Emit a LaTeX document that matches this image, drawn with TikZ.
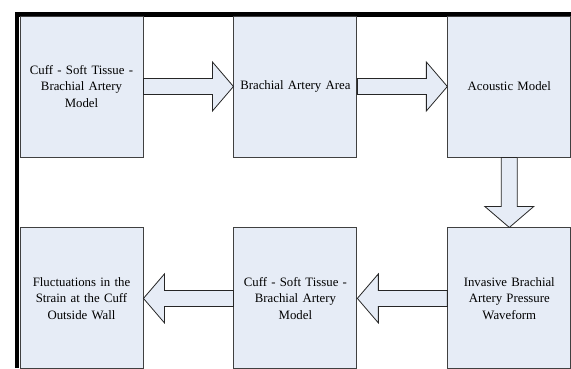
\documentclass[tikz,border=0pt]{standalone}
\usepackage{fontspec}
\setmainfont{Liberation Serif}
\usepackage{tikz}
\usetikzlibrary{positioning,calc}

\definecolor{boxfill}{RGB}{230,236,246}

% hollow block arrow from #1 to the tip #2
\newcommand{\blockarrow}[2]{%
  \draw[blockarrow] ($(#1)!8pt!90:(#2)$)
    -- ($(#2)!21pt!(#1)!8pt!-90:(#1)$)
    -- ($(#2)!21pt!(#1)!24.5pt!-90:(#1)$)
    -- (#2)
    -- ($(#2)!21pt!(#1)!24.5pt!90:(#1)$)
    -- ($(#2)!21pt!(#1)!8pt!90:(#1)$)
    -- ($(#1)!8pt!-90:(#2)$) -- cycle;}

\begin{document}
\begin{tikzpicture}[
  x=1pt, y=-1pt,
  node distance=70pt and 90pt,
  block/.style={draw=black!75, line width=0.9pt, fill=boxfill, rectangle, minimum width=123pt, minimum height=141pt, text width=112pt, align=center, inner sep=0pt, font=\fontsize{12.8}{16.5}\selectfont},
  blockarrow/.style={draw=black!85, line width=0.8pt, fill=boxfill}
]
\useasboundingbox (0,0) rectangle (571,368);
\draw[line width=4.5pt] (17,368) -- (17,14.3) -- (571,14.3);

\node[block] (b1) at (81.5,86.5) {Cuff - Soft Tissue -\\Brachial Artery\\Model};
\node[block, right=of b1] (b2) {Brachial Artery Area};
\node[block, right=of b2] (b3) {Acoustic Model};
\node[block, below=of b3] (b6) {Invasive Brachial\\Artery Pressure\\Waveform};
\node[block, left=of b6] (b5) {Cuff - Soft Tissue -\\Brachial Artery\\Model};
\node[block, left=of b5] (b4) {Fluctuations in the\\Strain at the Cuff\\Outside Wall};

\blockarrow{b1.east}{b2.west}
\blockarrow{b2.east}{b3.west}
\blockarrow{b3.south}{b6.north}
\blockarrow{b6.west}{b5.east}
\blockarrow{b5.west}{b4.east}
\end{tikzpicture}
\end{document}
